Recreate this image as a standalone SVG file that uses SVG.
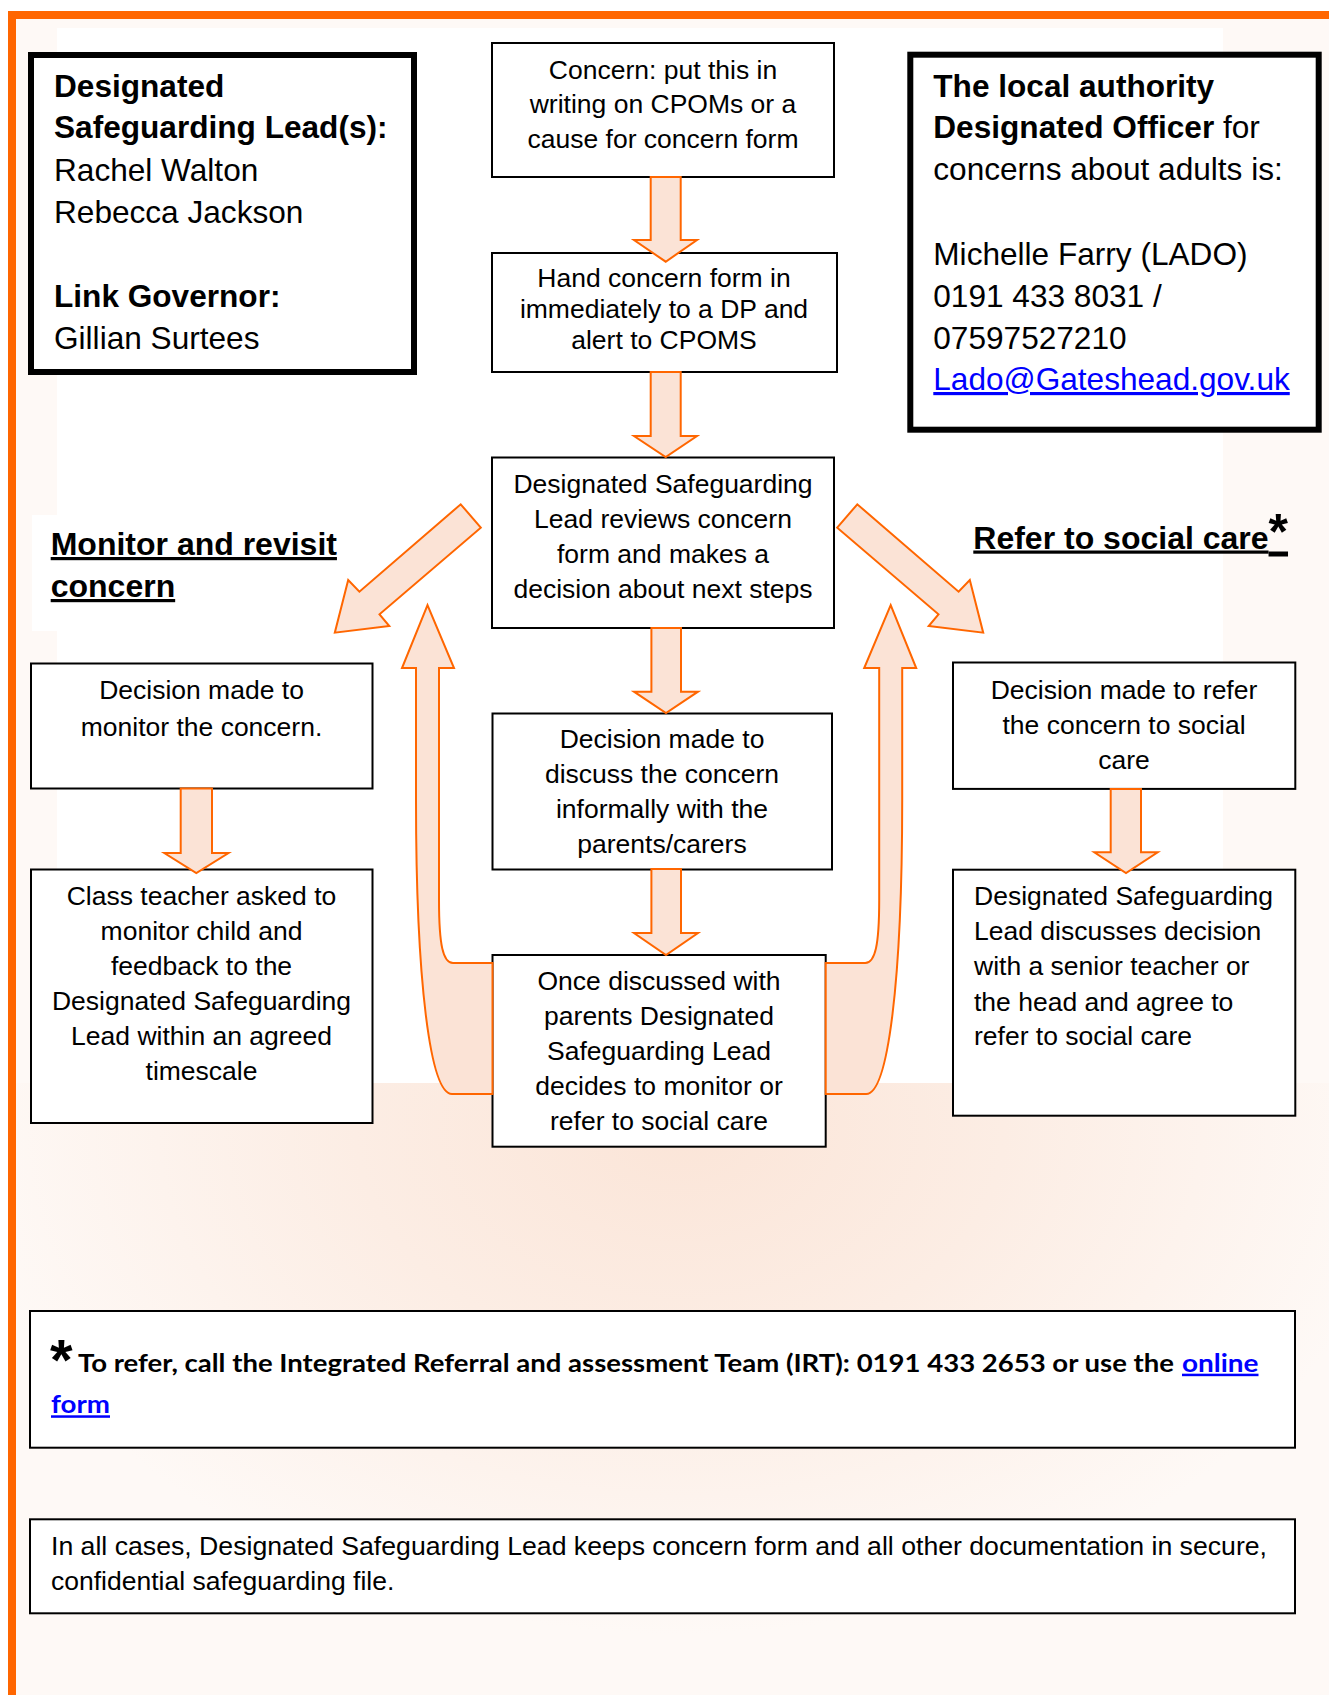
<svg xmlns="http://www.w3.org/2000/svg" width="1329" height="1695" viewBox="0 0 1329 1695">
<defs>
<style>
.t{font-family:"Liberation Sans",Arial,sans-serif;fill:#000}
.c{text-anchor:middle}
.s{font-size:26.5px}
.l{font-size:31.6px}
.h{font-size:32px;font-weight:bold;text-decoration:underline}
.b{font-weight:bold}
.box{fill:#fff;stroke:#000;stroke-width:2}
.tbox{fill:#fff;stroke:#000;stroke-width:6}
.arr{fill:#FBE3D6;stroke:#FF6600;stroke-width:2;stroke-linejoin:miter}
.lnk{fill:#0000FF;text-decoration:underline}
.cal{font-family:Lato,"Liberation Sans",sans-serif;font-weight:bold;font-size:25px}
</style>
<radialGradient id="bg" gradientUnits="userSpaceOnUse" cx="680" cy="1130" r="720" gradientTransform="translate(0,1130) scale(1,0.7) translate(0,-1130)">
<stop offset="0" stop-color="#FBE5D8"/>
<stop offset="0.45" stop-color="#FCEDE4"/>
<stop offset="1" stop-color="#FEF9F6"/>
</radialGradient>
</defs>

<g id="background">
<rect width="1329" height="1695" fill="#fff"/>
<rect x="16" y="19" width="1313" height="1676" fill="#FEF9F6"/>
<rect x="57" y="28" width="1166" height="1055" fill="#fff"/>
<rect x="16" y="1083" width="1313" height="612" fill="url(#bg)"/>
<rect x="32" y="515" width="310" height="116" fill="#fff"/>
<rect x="8" y="11" width="1321" height="8" fill="#FF6600"/>
<rect x="8" y="11" width="8" height="1684" fill="#FF6600"/>
</g>

<g id="dsl-info">
<rect class="tbox" x="31" y="55" width="383" height="317"/>
<text class="t l b" x="54" y="97">Designated</text>
<text class="t l b" x="54" y="138.3">Safeguarding Lead(s):</text>
<text class="t l" x="54" y="181.3">Rachel Walton</text>
<text class="t l" x="54" y="223.3">Rebecca Jackson</text>
<text class="t l b" x="54" y="307.3">Link Governor:</text>
<text class="t l" x="54" y="349">Gillian Surtees</text>
</g>

<g id="lado-info">
<rect class="tbox" x="910.3" y="54.7" width="408.4" height="375"/>
<text class="t l b" x="933.3" y="97.3">The local authority</text>
<text class="t l" x="933.3" y="138.3"><tspan font-weight="bold">Designated Officer</tspan> for</text>
<text class="t l" x="933.3" y="180">concerns about adults is:</text>
<text class="t l" x="933.3" y="265">Michelle Farry (LADO)</text>
<text class="t l" x="933.3" y="306.7">0191 433 8031 /</text>
<text class="t l" x="933.3" y="349.3">07597527210</text>
<text class="t l lnk" x="933.3" y="390">Lado@Gateshead.gov.uk</text>
</g>

<g id="concern">
<rect class="box" x="492" y="43" width="342" height="134"/>
<text class="t s c" x="663" y="79.3">Concern: put this in</text>
<text class="t s c" x="663" y="113.3">writing on CPOMs or a</text>
<text class="t s c" x="663" y="148.3">cause for concern form</text>
</g>

<g id="hand-in">
<rect class="box" x="492" y="253" width="345" height="119"/>
<text class="t s c" x="664" y="287.3">Hand concern form in</text>
<text class="t s c" x="664" y="318.3">immediately to a DP and</text>
<text class="t s c" x="664" y="349.3">alert to CPOMS</text>
</g>

<g id="dsl-review">
<rect class="box" x="492" y="457.5" width="342" height="170.5"/>
<text class="t s c" x="663" y="493">Designated Safeguarding</text>
<text class="t s c" x="663" y="528">Lead reviews concern</text>
<text class="t s c" x="663" y="563">form and makes a</text>
<text class="t s c" x="663" y="598">decision about next steps</text>
</g>

<g id="monitor-heading">
<text class="t h" x="50.7" y="555">Monitor and revisit</text>
<text class="t h" x="50.7" y="597">concern</text>
</g>

<g id="refer-heading">
<text class="t h" x="973.3" y="548.5">Refer to social care<tspan font-size="50">*</tspan></text>
</g>

<g id="decide-monitor">
<rect class="box" x="31" y="663.5" width="341.5" height="125"/>
<text class="t s c" x="201.5" y="698.7">Decision made to</text>
<text class="t s c" x="201.5" y="735.7">monitor the concern.</text>
</g>

<g id="class-teacher">
<rect class="box" x="31" y="869.5" width="341.5" height="253.5"/>
<text class="t s c" x="201.5" y="905">Class teacher asked to</text>
<text class="t s c" x="201.5" y="940">monitor child and</text>
<text class="t s c" x="201.5" y="975">feedback to the</text>
<text class="t s c" x="201.5" y="1010">Designated Safeguarding</text>
<text class="t s c" x="201.5" y="1045">Lead within an agreed</text>
<text class="t s c" x="201.5" y="1080">timescale</text>
</g>

<g id="discuss-parents">
<rect class="box" x="492.5" y="713.5" width="339.5" height="156"/>
<text class="t s c" x="662" y="748">Decision made to</text>
<text class="t s c" x="662" y="783">discuss the concern</text>
<text class="t s c" x="662" y="818">informally with the</text>
<text class="t s c" x="662" y="853">parents/carers</text>
</g>

<g id="once-discussed">
<rect class="box" x="492.5" y="955" width="333.2" height="191.7"/>
<text class="t s c" x="659" y="990">Once discussed with</text>
<text class="t s c" x="659" y="1025">parents Designated</text>
<text class="t s c" x="659" y="1060">Safeguarding Lead</text>
<text class="t s c" x="659" y="1095">decides to monitor or</text>
<text class="t s c" x="659" y="1130">refer to social care</text>
</g>

<g id="decide-refer">
<rect class="box" x="953" y="662.5" width="342.3" height="126.4"/>
<text class="t s c" x="1124" y="699">Decision made to refer</text>
<text class="t s c" x="1124" y="733.7">the concern to social</text>
<text class="t s c" x="1124" y="769">care</text>
</g>

<g id="dsl-discusses">
<rect class="box" x="953" y="869.7" width="342.3" height="246"/>
<text class="t s" x="974" y="905">Designated Safeguarding</text>
<text class="t s" x="974" y="940">Lead discusses decision</text>
<text class="t s" x="974" y="975.4">with a senior teacher or</text>
<text class="t s" x="974" y="1010.7">the head and agree to</text>
<text class="t s" x="974" y="1044.7">refer to social care</text>
</g>

<g id="irt-note">
<rect class="box" x="30" y="1311" width="1265" height="136.7"/>
<text class="t b" x="50" y="1380" font-size="58">*</text>
<text class="cal" x="78" y="1371.7" textLength="1096" lengthAdjust="spacingAndGlyphs" fill="#000">To refer, call the Integrated Referral and assessment Team (IRT): 0191 433 2653 or use the</text>
<text class="cal lnk" x="1182" y="1371.7" textLength="76.5" lengthAdjust="spacingAndGlyphs">online</text>
<text class="cal lnk" x="51" y="1413.3" textLength="59" lengthAdjust="spacingAndGlyphs">form</text>
</g>

<g id="records-note">
<rect class="box" x="30" y="1519.3" width="1265" height="94"/>
<text class="t s" x="51" y="1555" textLength="1216" lengthAdjust="spacingAndGlyphs">In all cases, Designated Safeguarding Lead keeps concern form and all other documentation in secure,</text>
<text class="t s" x="51" y="1590">confidential safeguarding file.</text>
</g>

<g id="connectors">
<path class="arr" d="M650.7 177 L680.7 177 L680.7 240 L697 240 L665.7 261.7 L634 240 L650.7 240 Z"/>
<path class="arr" d="M650.7 372 L680.7 372 L680.7 436 L697 436 L665.7 457 L634 436 L650.7 436 Z"/>
<path class="arr" d="M651.4 628 L681 628 L681 691.7 L698 691.7 L666 713 L634 691.7 L651.4 691.7 Z"/>
<path class="arr" d="M651.4 869 L681 869 L681 933 L698 933 L666 955 L634 933 L651.4 933 Z"/>
<path class="arr" d="M180.7 788.5 L212 788.5 L212 853 L228.5 853 L196.3 873 L164.3 853 L180.7 853 Z"/>
<path class="arr" d="M1110.7 789 L1141 789 L1141 852.3 L1157.7 852.3 L1126 873 L1094.3 852.3 L1110.7 852.3 Z"/>
<polygon class="arr" points="460.7,504.3 480.8,527.7 379.5,614.3 389.3,626 334.8,632.7 348.2,580 359.4,591.7"/>
<polygon class="arr" points="857.3,504.3 837.2,527.7 938.5,614.3 928.7,626 983.2,632.7 969.8,580 958.6,591.7"/>
<path class="arr" d="M492.5 963 L453 963 C443 963 439 945 439 900 L439 668 L454 668 L427.5 605 L402 668 L416 668 L416 800 C416 980 430 1094 452 1094 L492.5 1094 Z"/>
<path class="arr" d="M825.7 963 L865.2 963 C875.2 963 879.2 945 879.2 900 L879.2 668 L864.2 668 L890.7 605 L916.2 668 L902.2 668 L902.2 800 C902.2 980 888.2 1094 866.2 1094 L825.7 1094 Z"/>
</g>
</svg>
